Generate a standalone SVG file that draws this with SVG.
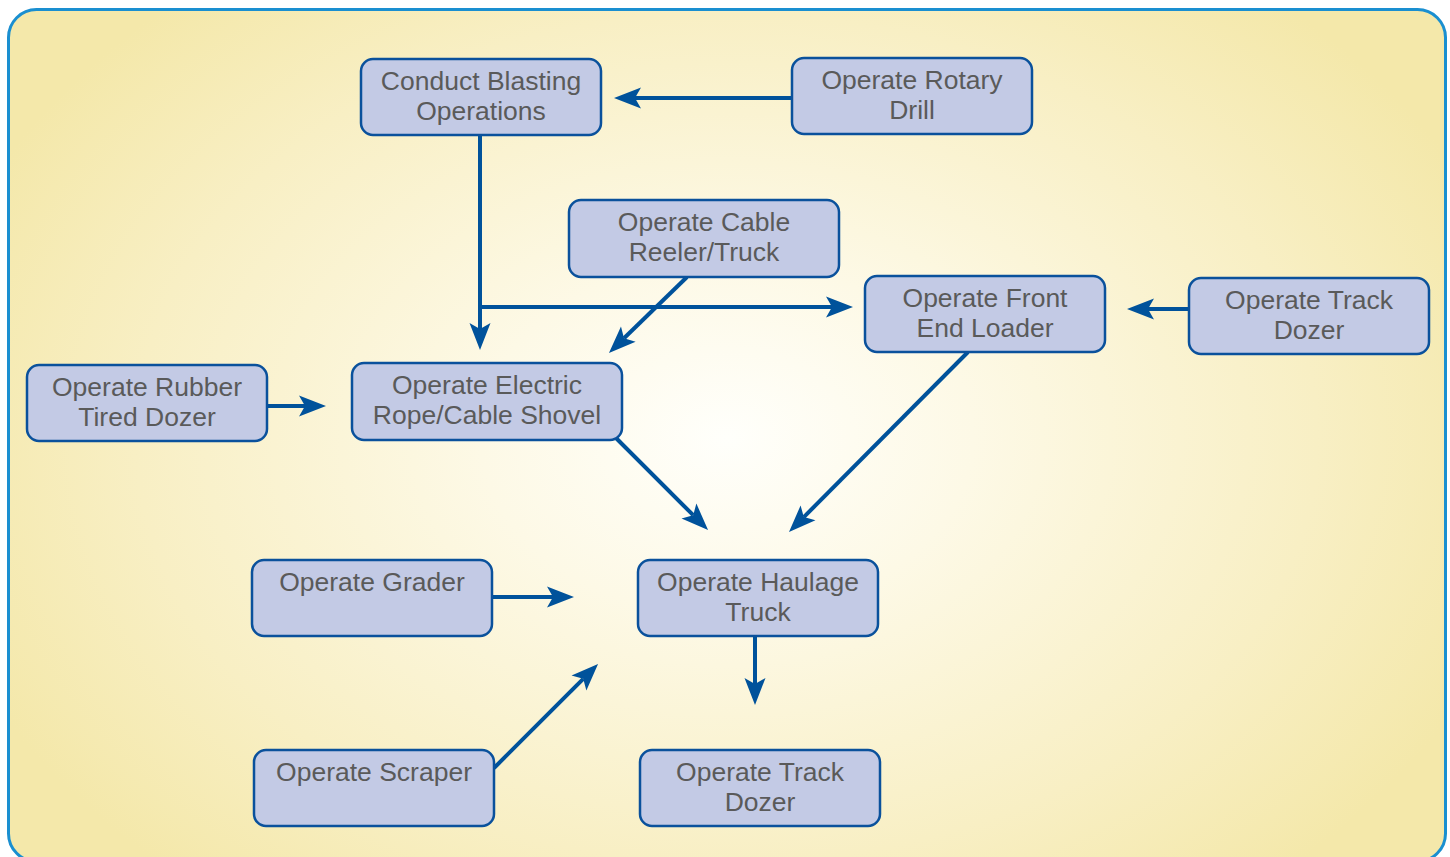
<svg xmlns="http://www.w3.org/2000/svg" width="1450" height="857" viewBox="0 0 1450 857">
<defs>
<radialGradient id="bg" cx="727" cy="438" r="820" gradientUnits="userSpaceOnUse" gradientTransform="translate(727 438) scale(1 0.72) translate(-727 -438)">
<stop offset="0" stop-color="#fffffb"/>
<stop offset="0.3" stop-color="#fdf9e6"/>
<stop offset="0.72" stop-color="#f8efc4"/>
<stop offset="1" stop-color="#f4e8aa"/>
</radialGradient>
<marker id="ah" viewBox="-8 -12 30 24" refX="0" refY="0" markerWidth="30" markerHeight="24" markerUnits="userSpaceOnUse" orient="auto">
<path d="M21,0 L-6,-10.5 L0,0 L-6,10.5 Z" fill="#00529b"/>
</marker>
<style>
.box{fill:#c3cae5;stroke:#0a519c;stroke-width:2.5}
.t{font-family:"Liberation Sans",Arial,sans-serif;font-size:26.5px;fill:#5a5a5a;text-anchor:middle}
.c{stroke:#00529b;stroke-width:4;fill:none}
.a{marker-end:url(#ah)}
</style>
</defs>
<rect x="0" y="0" width="1450" height="857" fill="#ffffff"/>
<rect x="8.5" y="9.5" width="1437" height="852" rx="28" fill="url(#bg)" stroke="#1a8fd0" stroke-width="3"/>
<g id="connectors">
<line class="c a" x1="792" y1="98" x2="635" y2="98"/>
<line class="c a" x1="480" y1="135" x2="480" y2="329"/>
<line class="c a" x1="478" y1="307" x2="832" y2="307"/>
<line class="c a" x1="687" y1="277" x2="624" y2="338.3"/>
<line class="c a" x1="1189" y1="309" x2="1148" y2="309"/>
<line class="c a" x1="267" y1="406" x2="305" y2="406"/>
<line class="c a" x1="615" y1="437" x2="693.2" y2="515.2"/>
<line class="c a" x1="968" y1="352" x2="803.8" y2="517.1"/>
<line class="c a" x1="492" y1="597" x2="553" y2="597"/>
<line class="c a" x1="494" y1="768" x2="583.2" y2="678.8"/>
<line class="c a" x1="755" y1="636" x2="755" y2="684"/>
</g>
<g id="conduct-blasting"><rect class="box" x="361" y="59" width="240" height="76" rx="12"/><text class="t" x="481" y="90">Conduct Blasting</text><text class="t" x="481" y="120">Operations</text></g>
<g id="rotary-drill"><rect class="box" x="792" y="58" width="240" height="76" rx="12"/><text class="t" x="912" y="89">Operate Rotary</text><text class="t" x="912" y="119">Drill</text></g>
<g id="cable-reeler"><rect class="box" x="569" y="200" width="270" height="77" rx="12"/><text class="t" x="704" y="231">Operate Cable</text><text class="t" x="704" y="261">Reeler/Truck</text></g>
<g id="front-end-loader"><rect class="box" x="865" y="276" width="240" height="76" rx="12"/><text class="t" x="985" y="307">Operate Front</text><text class="t" x="985" y="337">End Loader</text></g>
<g id="track-dozer-right"><rect class="box" x="1189" y="278" width="240" height="76" rx="12"/><text class="t" x="1309" y="309">Operate Track</text><text class="t" x="1309" y="339">Dozer</text></g>
<g id="rubber-tired-dozer"><rect class="box" x="27" y="365" width="240" height="76" rx="12"/><text class="t" x="147" y="396">Operate Rubber</text><text class="t" x="147" y="426">Tired Dozer</text></g>
<g id="electric-shovel"><rect class="box" x="352" y="363" width="270" height="77" rx="12"/><text class="t" x="487" y="394">Operate Electric</text><text class="t" x="487" y="424">Rope/Cable Shovel</text></g>
<g id="grader"><rect class="box" x="252" y="560" width="240" height="76" rx="12"/><text class="t" x="372" y="591">Operate Grader</text></g>
<g id="haulage-truck"><rect class="box" x="638" y="560" width="240" height="76" rx="12"/><text class="t" x="758" y="591">Operate Haulage</text><text class="t" x="758" y="621">Truck</text></g>
<g id="scraper"><rect class="box" x="254" y="750" width="240" height="76" rx="12"/><text class="t" x="374" y="781">Operate Scraper</text></g>
<g id="track-dozer-bottom"><rect class="box" x="640" y="750" width="240" height="76" rx="12"/><text class="t" x="760" y="781">Operate Track</text><text class="t" x="760" y="811">Dozer</text></g>
</svg>
